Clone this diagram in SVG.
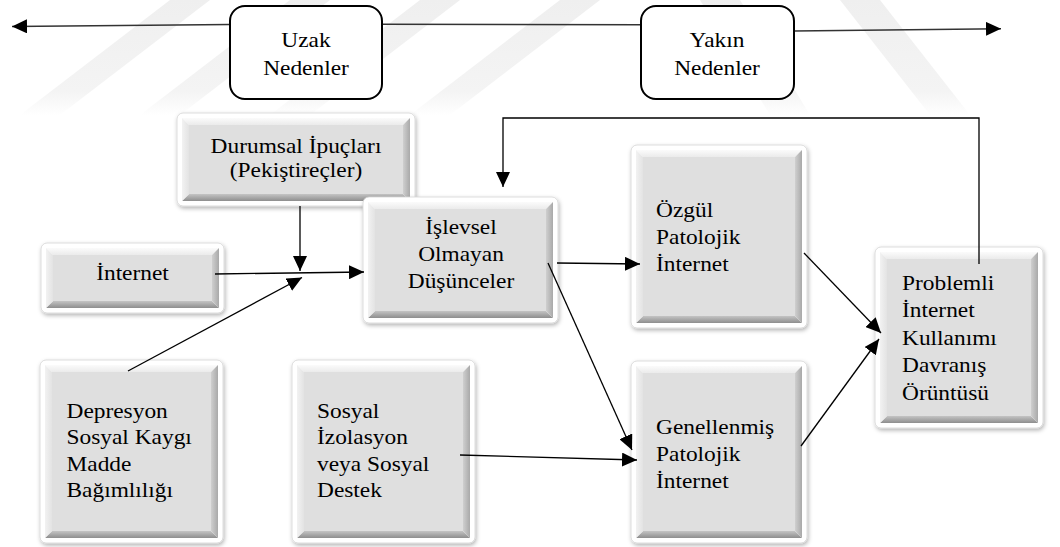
<svg xmlns="http://www.w3.org/2000/svg" width="1060" height="547" viewBox="0 0 1060 547">
<style>
text{font-family:'Liberation Serif','DejaVu Serif',serif;font-size:20px;fill:#000}
.c{text-anchor:middle}
.ol{fill:#fff;stroke:#d4d4d4;stroke-width:0.8;filter:url(#sh)}
.bt{fill:url(#gTop)}
.bb{fill:url(#gBot)}
.bl{fill:url(#gLeft)}
.br{fill:url(#gRight)}
.fc{fill:#dfdfdf}
.rb{fill:#fff;stroke:#000;stroke-width:2}
.ln{fill:none;stroke:#000;stroke-width:1.3}
.tl{fill:none;stroke:#333;stroke-width:1.6}
.wm{fill:url(#gWm)}
</style>
<defs>
<filter id="sh" x="-10%" y="-10%" width="125%" height="125%">
<feDropShadow dx="1" dy="2" stdDeviation="2" flood-color="#000" flood-opacity="0.3"/>
</filter>
<linearGradient id="gWm" x1="0" y1="0" x2="0" y2="1"><stop offset="0" stop-color="#efefef"/><stop offset="0.8" stop-color="#f4f4f4"/><stop offset="1" stop-color="#fff"/></linearGradient>
<linearGradient id="gTop" x1="0" y1="0" x2="0" y2="1"><stop offset="0" stop-color="#fbfbfb"/><stop offset="1" stop-color="#ebebeb"/></linearGradient>
<linearGradient id="gBot" x1="0" y1="1" x2="0" y2="0"><stop offset="0" stop-color="#8e8e8e"/><stop offset="1" stop-color="#c4c4c4"/></linearGradient>
<linearGradient id="gLeft" x1="0" y1="0" x2="1" y2="0"><stop offset="0" stop-color="#f2f2f2"/><stop offset="1" stop-color="#e3e3e3"/></linearGradient>
<linearGradient id="gRight" x1="1" y1="0" x2="0" y2="0"><stop offset="0" stop-color="#a9a9a9"/><stop offset="1" stop-color="#cfcfcf"/></linearGradient>
<marker id="ah" markerUnits="userSpaceOnUse" markerWidth="16" markerHeight="14" viewBox="0 0 16 14" refX="15" refY="7" orient="auto">
<path d="M0,0 L15,7 L0,14 z" fill="#000"/>
</marker>
</defs>
<rect width="1060" height="547" fill="#fff"/>
<g id="watermark">
<polygon class="wm" points="170,0 210,0 60,115 20,115"/>
<polygon class="wm" points="290,0 330,0 180,115 140,115"/>
<polygon class="wm" points="420,0 460,0 310,115 270,115"/>
<polygon class="wm" points="560,0 600,0 450,115 410,115"/>
<polygon class="wm" points="700,0 740,0 810,115 770,115"/>
<polygon class="wm" points="840,0 880,0 970,115 930,115"/>
</g>
<g id="timeline">
<line class="tl" x1="230" y1="24.5" x2="12" y2="26.5" marker-end="url(#ah)"/>
<line class="tl" x1="382" y1="24.3" x2="641" y2="24.7"/>
<line class="tl" x1="794" y1="31" x2="1001" y2="28.7" marker-end="url(#ah)"/>
</g>
<g id="uzak">
<rect class="rb" x="230" y="6" width="152" height="93" rx="15"/>
<text class="c" transform="translate(306,47) scale(1.17,1)"><tspan x="0">Uzak</tspan><tspan x="0" dy="28.5">Nedenler</tspan></text>
</g>
<g id="yakin">
<rect class="rb" x="641" y="6" width="153" height="93" rx="15"/>
<text class="c" transform="translate(717,47) scale(1.17,1)"><tspan x="0">Yakın</tspan><tspan x="0" dy="28.5">Nedenler</tspan></text>
</g>
<g id="durumsal">
<rect class="ol" x="177" y="113" width="238" height="93" rx="6"/>
<polygon class="bt" points="182,118 410,118 403,125 189,125"/>
<polygon class="bb" points="182,201 410,201 403,194 189,194"/>
<polygon class="bl" points="182,118 189,125 189,194 182,201"/>
<polygon class="br" points="410,118 403,125 403,194 410,201"/>
<rect class="fc" x="189" y="125" width="214" height="69"/>
<text class="c" transform="translate(296,153) scale(1.17,1)"><tspan x="0">Durumsal İpuçları</tspan><tspan x="0" dy="24.5">(Pekiştireçler)</tspan></text>
</g>
<g id="internet">
<rect class="ol" x="41" y="243" width="183" height="70" rx="6"/>
<polygon class="bt" points="46,248 219,248 212,255 53,255"/>
<polygon class="bb" points="46,308 219,308 212,301 53,301"/>
<polygon class="bl" points="46,248 53,255 53,301 46,308"/>
<polygon class="br" points="219,248 212,255 212,301 219,308"/>
<rect class="fc" x="53" y="255" width="159" height="46"/>
<text class="c" transform="translate(132.5,280) scale(1.17,1)">İnternet</text>
</g>
<g id="depresyon">
<rect class="ol" x="40" y="360" width="183" height="183" rx="6"/>
<polygon class="bt" points="45,365 218,365 211,372 52,372"/>
<polygon class="bb" points="45,538 218,538 211,531 52,531"/>
<polygon class="bl" points="45,365 52,372 52,531 45,538"/>
<polygon class="br" points="218,365 211,372 211,531 218,538"/>
<rect class="fc" x="52" y="372" width="159" height="159"/>
<text transform="translate(66.5,418) scale(1.17,1)"><tspan x="0">Depresyon</tspan><tspan x="0" dy="26.5">Sosyal Kaygı</tspan><tspan x="0" dy="26.5">Madde</tspan><tspan x="0" dy="26.5">Bağımlılığı</tspan></text>
</g>
<g id="sosyal">
<rect class="ol" x="292" y="360" width="183" height="183" rx="6"/>
<polygon class="bt" points="297,365 470,365 463,372 304,372"/>
<polygon class="bb" points="297,538 470,538 463,531 304,531"/>
<polygon class="bl" points="297,365 304,372 304,531 297,538"/>
<polygon class="br" points="470,365 463,372 463,531 470,538"/>
<rect class="fc" x="304" y="372" width="159" height="159"/>
<text transform="translate(317,418) scale(1.17,1)"><tspan x="0">Sosyal</tspan><tspan x="0" dy="26.5">İzolasyon</tspan><tspan x="0" dy="26.5">veya Sosyal</tspan><tspan x="0" dy="26.5">Destek</tspan></text>
</g>
<g id="islevsel">
<rect class="ol" x="363" y="197" width="195" height="126" rx="6"/>
<polygon class="bt" points="368,202 553,202 546,209 375,209"/>
<polygon class="bb" points="368,318 553,318 546,311 375,311"/>
<polygon class="bl" points="368,202 375,209 375,311 368,318"/>
<polygon class="br" points="553,202 546,209 546,311 553,318"/>
<rect class="fc" x="375" y="209" width="171" height="102"/>
<text class="c" transform="translate(461,234) scale(1.17,1)"><tspan x="0">İşlevsel</tspan><tspan x="0" dy="27">Olmayan</tspan><tspan x="0" dy="27">Düşünceler</tspan></text>
</g>
<g id="ozgul">
<rect class="ol" x="631" y="145" width="176" height="183" rx="6"/>
<polygon class="bt" points="636,150 802,150 795,157 643,157"/>
<polygon class="bb" points="636,323 802,323 795,316 643,316"/>
<polygon class="bl" points="636,150 643,157 643,316 636,323"/>
<polygon class="br" points="802,150 795,157 795,316 802,323"/>
<rect class="fc" x="643" y="157" width="152" height="159"/>
<text transform="translate(656,217) scale(1.17,1)"><tspan x="0">Özgül</tspan><tspan x="0" dy="27">Patolojik</tspan><tspan x="0" dy="27">İnternet</tspan></text>
</g>
<g id="genellenmis">
<rect class="ol" x="631" y="361" width="176" height="182" rx="6"/>
<polygon class="bt" points="636,366 802,366 795,373 643,373"/>
<polygon class="bb" points="636,538 802,538 795,531 643,531"/>
<polygon class="bl" points="636,366 643,373 643,531 636,538"/>
<polygon class="br" points="802,366 795,373 795,531 802,538"/>
<rect class="fc" x="643" y="373" width="152" height="158"/>
<text transform="translate(656,434) scale(1.17,1)"><tspan x="0">Genellenmiş</tspan><tspan x="0" dy="27">Patolojik</tspan><tspan x="0" dy="27">İnternet</tspan></text>
</g>
<g id="problemli">
<rect class="ol" x="875" y="247" width="168" height="181" rx="6"/>
<polygon class="bt" points="880,252 1038,252 1031,259 887,259"/>
<polygon class="bb" points="880,423 1038,423 1031,416 887,416"/>
<polygon class="bl" points="880,252 887,259 887,416 880,423"/>
<polygon class="br" points="1038,252 1031,259 1031,416 1038,423"/>
<rect class="fc" x="887" y="259" width="144" height="157"/>
<text transform="translate(902,289.5) scale(1.17,1)"><tspan x="0">Problemli</tspan><tspan x="0" dy="27.6">İnternet</tspan><tspan x="0" dy="27.6">Kullanımı</tspan><tspan x="0" dy="27.6">Davranış</tspan><tspan x="0" dy="27.6">Örüntüsü</tspan></text>
</g>
<g id="connectors">
<line class="ln" x1="300" y1="206" x2="300" y2="271" marker-end="url(#ah)"/>
<line class="ln" x1="215" y1="274" x2="364" y2="272" marker-end="url(#ah)"/>
<line class="ln" x1="128" y1="371" x2="302" y2="277.5" marker-end="url(#ah)"/>
<path class="ln" d="M979,264 V118 H503 V187" marker-end="url(#ah)"/>
<line class="ln" x1="557" y1="263" x2="640" y2="264" marker-end="url(#ah)"/>
<line class="ln" x1="548" y1="263" x2="632" y2="450" marker-end="url(#ah)"/>
<line class="ln" x1="460" y1="455" x2="637" y2="460" marker-end="url(#ah)"/>
<line class="ln" x1="804" y1="253" x2="881" y2="333" marker-end="url(#ah)"/>
<line class="ln" x1="801" y1="446" x2="879" y2="339" marker-end="url(#ah)"/>
</g>
</svg>
